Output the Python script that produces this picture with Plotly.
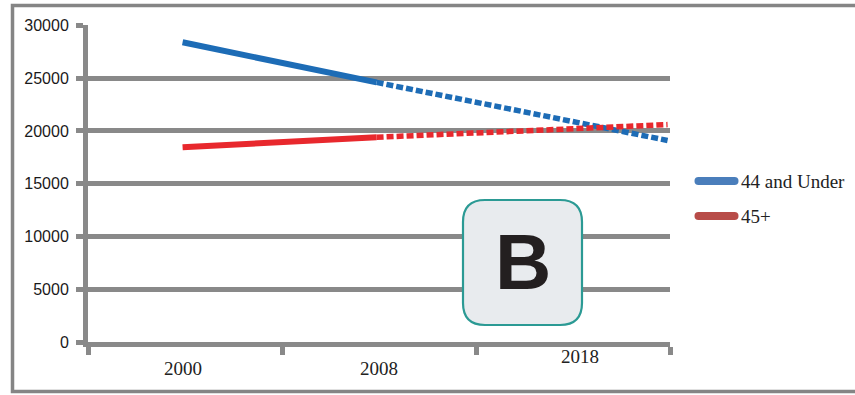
import plotly.graph_objects as go

# Category labels along the horizontal axis
period_labels = ["2000", "2008", "2018"]

# Recorded values (solid) and projected values (dotted), by year
years_hist = [2000, 2008]
under44_hist = [28400, 24600]
over45_hist = [18450, 19400]

years_proj = [2008, 2020]
under44_proj = [24600, 19100]
over45_proj = [19400, 20600]

series_names = ["44 and Under", "45+"]

# Plot-area geometry (pixels) used to place paper-referenced decorations
W, H = 855, 395
L, R, T, B = 88, 670, 25, 342
PW, PH = R - L, B - T


def px(x):
    return (x - L) / PW


def py(y):
    return (B - y) / PH


def rounded_rect(hw, hh, r):
    return (f"M {-hw + r},{-hh} L {hw - r},{-hh} Q {hw},{-hh} {hw},{-hh + r} "
            f"L {hw},{hh - r} Q {hw},{hh} {hw - r},{hh} L {-hw + r},{hh} "
            f"Q {-hw},{hh} {-hw},{hh - r} L {-hw},{-hh + r} Q {-hw},{-hh} {-hw + r},{-hh} Z")


BLUE, RED = "#1d6cb6", "#e8282d"
LEG_BLUE, LEG_RED = "#4a7ebb", "#b84c48"
GRID = "#898989"

fig = go.Figure()

# invisible trace that establishes the category axis
fig.add_trace(go.Scatter(x=period_labels, y=[None] * len(period_labels), xaxis="x",
                         showlegend=False, hoverinfo="skip"))

fig.add_trace(go.Scatter(x=years_hist, y=under44_hist, xaxis="x2", mode="lines",
                         line=dict(color=BLUE, width=6), name=series_names[0], showlegend=False))
fig.add_trace(go.Scatter(x=years_proj, y=under44_proj, xaxis="x2", mode="lines",
                         line=dict(color=BLUE, width=5.5, dash="7px,3px"), showlegend=False))
fig.add_trace(go.Scatter(x=years_hist, y=over45_hist, xaxis="x2", mode="lines",
                         line=dict(color=RED, width=6), name=series_names[1], showlegend=False))
fig.add_trace(go.Scatter(x=years_proj, y=over45_proj, xaxis="x2", mode="lines",
                         line=dict(color=RED, width=5.5, dash="7px,3px"), showlegend=False))

shapes = [
    # outer frame
    dict(type="rect", xref="paper", yref="paper",
         x0=px(12.5), x1=px(870), y0=py(391.5), y1=py(5.5),
         line=dict(color="#858585", width=3.5), fillcolor="rgba(0,0,0,0)", layer="below"),
    # "B" badge
    dict(type="path", xref="paper", yref="paper", xsizemode="pixel", ysizemode="pixel",
         xanchor=px(522.5), yanchor=py(262.5), path=rounded_rect(59.5, 62.5, 22),
         fillcolor="#e8ebee", line=dict(color="#2b9a94", width=2.2), layer="above"),
]

# legend keys
legend_rows = [(181, LEG_BLUE), (216, LEG_RED)]
for (yy, col) in legend_rows:
    shapes.append(dict(type="path", xref="paper", yref="paper", xsizemode="pixel",
                       ysizemode="pixel", xanchor=px(716.5), yanchor=py(yy),
                       path=rounded_rect(22, 4, 4), fillcolor=col, line=dict(width=0)))

annotations = []
for name, (yy, _) in zip(series_names, legend_rows):
    annotations.append(dict(text=name, xref="paper", yref="paper", x=px(739), y=py(yy),
                            xanchor="left", yanchor="middle", showarrow=False,
                            font=dict(family="Liberation Serif", size=19, color="#222")))

# horizontal axis labels, placed at their category positions
label_offsets = {"2000": (-2, 368), "2008": (0, 368), "2018": (7, 356)}
for i, lab in enumerate(period_labels):
    dx, yy = label_offsets[lab]
    annotations.append(dict(text=lab, xref="x", yref="paper", x=i, y=py(yy), xshift=dx,
                            xanchor="center", yanchor="middle", showarrow=False,
                            font=dict(family="Liberation Serif", size=19, color="#222")))

annotations.append(dict(text="<b>B</b>", xref="paper", yref="paper", x=px(522.5), y=py(262),
                        xanchor="center", yanchor="middle", showarrow=False,
                        font=dict(family="Liberation Sans, Arial", size=78, color="#231f20")))

fig.update_layout(
    width=W, height=H,
    margin=dict(l=L, r=W - R, t=T, b=H - B),
    paper_bgcolor="white", plot_bgcolor="white",
    showlegend=False,
    xaxis=dict(type="category", categoryorder="array", categoryarray=period_labels,
               range=[-0.5, len(period_labels) - 0.5], tickson="boundaries",
               ticks="outside", ticklen=8, tickwidth=5, tickcolor=GRID,
               showline=True, linecolor=GRID, linewidth=5, showgrid=False,
               showticklabels=False, zeroline=False, fixedrange=True),
    xaxis2=dict(overlaying="x", range=[1996.1, 2020.1], visible=False, fixedrange=True),
    yaxis=dict(range=[0, 30040], tickvals=[0, 5000, 10000, 15000, 20000, 25000, 30000],
               tickformat="d", showgrid=True, gridcolor=GRID, gridwidth=5,
               showline=True, linecolor=GRID, linewidth=5, zeroline=False,
               ticks="outside", ticklen=7, tickwidth=5, tickcolor=GRID,
               tickfont=dict(family="Liberation Sans, Arial", size=16, color="#1a1a1a"),
               ticklabelstandoff=4, fixedrange=True),
    shapes=shapes,
    annotations=annotations,
)

fig.write_html("out.html")
